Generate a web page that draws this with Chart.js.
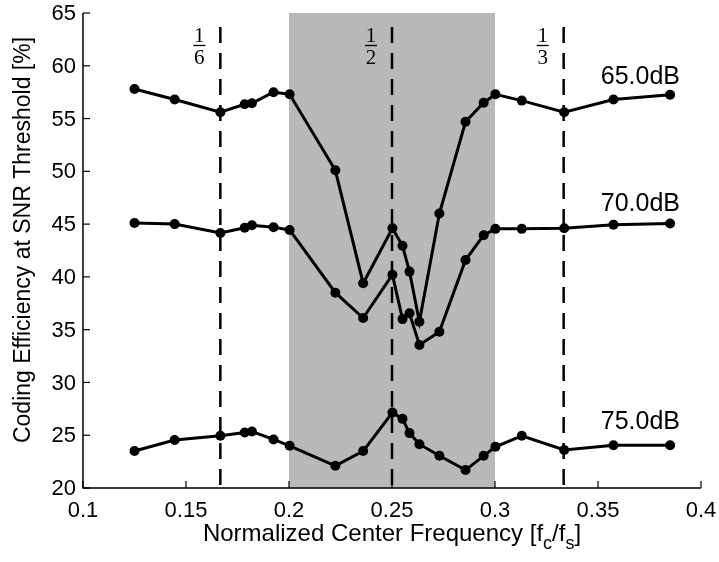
<!DOCTYPE html>
<html>
<head>
<meta charset="utf-8">
<script src="https://cdn.jsdelivr.net/npm/chart.js@4"></script>
<style>
  html, body { margin: 0; padding: 0; background: #fff; }
  #wrap { width: 719px; height: 562px; }
</style>
</head>
<body>
<div id="wrap"><canvas id="chart" width="719" height="562"></canvas></div>
<script>
// Values.
const freqs = [0.125, 0.1445, 0.1667, 0.1785, 0.182, 0.1925, 0.2003, 0.2225, 0.236, 0.2502, 0.2551,
               0.2585, 0.2633, 0.273, 0.2857, 0.2945, 0.3002, 0.313, 0.3336, 0.3575, 0.385];
const eff65 = [57.8, 56.8, 55.6, 56.35, 56.45, 57.5, 57.3, 50.1, 39.4, 44.6, 42.95,
               40.5, 35.75, 46.0, 54.7, 56.5, 57.3, 56.7, 55.6, 56.8, 57.25];
const eff70 = [45.1, 45.0, 44.15, 44.65, 44.9, 44.7, 44.45, 38.5, 36.1, 40.2, 36.0,
               36.55, 33.55, 34.8, 41.6, 43.95, 44.55, 44.55, 44.6, 44.95, 45.05];
const eff75 = [23.5, 24.55, 24.95, 25.25, 25.35, 24.6, 24.0, 22.1, 23.5, 27.15, 26.55,
               25.2, 24.15, 23.05, 21.7, 23.05, 23.9, 24.95, 23.6, 24.05, 24.05];

const seriesNames = ["65.0dB", "70.0dB", "75.0dB"];
const nameAnchors = [58.9, 46.9, 26.2];   // y value where each series name sits
const xTicks = [0.1, 0.15, 0.2, 0.25, 0.3, 0.35, 0.4];
const yTicks = [20, 25, 30, 35, 40, 45, 50, 55, 60, 65];

const dashFreqs = [0.16667, 0.25, 0.33333];
const dashLabels = [["1", "6"], ["1", "2"], ["1", "3"]];
const bandRange = [0.2, 0.3];

const xTitle = ["Normalized Center Frequency [f", "c", "/f", "s", "]"];
const yTitle = "Coding Efficiency at SNR Threshold [%]";

const SANS = "'Liberation Sans', Arial, Helvetica, sans-serif";
const SERIF = "'Liberation Serif', 'DejaVu Serif', serif";

const toPoints = (vals) => freqs.map((f, i) => ({ x: f, y: vals[i] }));

// Shaded band, dashed markers, axes with inward ticks, labels and titles.
const decorations = {
    id: "decorations",
    beforeDatasetsDraw(chart) {
        const { ctx, chartArea: a, scales: { x, y } } = chart;
        ctx.save();
        const x0 = x.getPixelForValue(bandRange[0]);
        const x1 = x.getPixelForValue(bandRange[1]);
        ctx.fillStyle = "#b9b9b9";
        ctx.fillRect(x0, a.top, x1 - x0, a.bottom - a.top);

        ctx.strokeStyle = "#000";
        ctx.lineWidth = 2.5;
        ctx.setLineDash([16, 10]);
        dashFreqs.forEach((f) => {
            const px = x.getPixelForValue(f);
            ctx.beginPath();
            ctx.moveTo(px, a.top + 14);
            ctx.lineTo(px, a.bottom);
            ctx.stroke();
        });
        ctx.setLineDash([]);

        // axes and inward tick marks
        ctx.lineWidth = 1.5;
        ctx.beginPath();
        ctx.moveTo(a.left, a.top);
        ctx.lineTo(a.left, a.bottom);
        ctx.lineTo(a.right, a.bottom);
        ctx.stroke();
        ctx.lineWidth = 1.2;
        xTicks.forEach((v) => {
            const px = x.getPixelForValue(v);
            ctx.beginPath();
            ctx.moveTo(px, a.bottom);
            ctx.lineTo(px, a.bottom - 7);
            ctx.stroke();
        });
        yTicks.forEach((v) => {
            const py = y.getPixelForValue(v);
            ctx.beginPath();
            ctx.moveTo(a.left, py);
            ctx.lineTo(a.left + 7, py);
            ctx.stroke();
        });

        // tick labels
        ctx.fillStyle = "#000";
        ctx.font = "22px " + SANS;
        ctx.textAlign = "center";
        ctx.textBaseline = "middle";
        xTicks.forEach((v) => {
            ctx.fillText(String(v), x.getPixelForValue(v), a.bottom + 23);
        });
        ctx.textAlign = "right";
        yTicks.forEach((v) => {
            ctx.fillText(String(v), a.left - 7, y.getPixelForValue(v) + 1);
        });
        ctx.restore();
    },
    afterDraw(chart) {
        const { ctx, chartArea: a, scales: { x, y } } = chart;
        ctx.save();
        ctx.fillStyle = "#000";
        ctx.strokeStyle = "#000";

        // fraction labels left of each dashed line
        ctx.font = "21px " + SERIF;
        ctx.textAlign = "center";
        ctx.textBaseline = "alphabetic";
        dashFreqs.forEach((f, i) => {
            const cx = x.getPixelForValue(f) - 21;
            ctx.fillText(dashLabels[i][0], cx, 42);
            ctx.lineWidth = 1.3;
            ctx.beginPath();
            ctx.moveTo(cx - 6, 45.5);
            ctx.lineTo(cx + 6, 45.5);
            ctx.stroke();
            ctx.fillText(dashLabels[i][1], cx, 64);
        });

        // series names
        ctx.font = "25px " + SANS;
        ctx.textAlign = "right";
        ctx.textBaseline = "middle";
        seriesNames.forEach((name, i) => {
            ctx.fillText(name, 680, y.getPixelForValue(nameAnchors[i]));
        });

        // x title with subscripts
        const big = "24px " + SANS, small = "18px " + SANS;
        let total = 0;
        xTitle.forEach((part, i) => {
            ctx.font = i % 2 ? small : big;
            total += ctx.measureText(part).width;
        });
        let cx = (a.left + a.right) / 2 - total / 2;
        ctx.textAlign = "left";
        ctx.textBaseline = "alphabetic";
        xTitle.forEach((part, i) => {
            ctx.font = i % 2 ? small : big;
            ctx.fillText(part, cx, i % 2 ? 549 : 541);
            cx += ctx.measureText(part).width;
        });

        // y title
        ctx.font = "23px " + SANS;
        ctx.textAlign = "center";
        ctx.textBaseline = "middle";
        ctx.translate(24, 240);
        ctx.rotate(-Math.PI / 2);
        ctx.fillText(yTitle, 0, 0);
        ctx.restore();
    },
};

const lineStyle = {
    borderColor: "#000",
    backgroundColor: "#000",
    borderWidth: 3,
    pointRadius: 5,
    pointBorderWidth: 0,
    showLine: true,
    tension: 0,
};

new Chart(document.getElementById("chart"), {
    type: "scatter",
    data: {
        datasets: [
            { label: seriesNames[0], data: toPoints(eff65), ...lineStyle },
            { label: seriesNames[1], data: toPoints(eff70), ...lineStyle },
            { label: seriesNames[2], data: toPoints(eff75), ...lineStyle },
        ],
    },
    options: {
        responsive: false,
        animation: false,
        devicePixelRatio: 1,
        layout: { autoPadding: false, padding: { top: 13, right: 18, left: 0, bottom: 0 } },
        plugins: { legend: { display: false }, tooltip: { enabled: false } },
        scales: {
            x: {
                type: "linear",
                min: 0.1,
                max: 0.4,
                afterBuildTicks: (s) => { s.ticks = xTicks.map((v) => ({ value: v })); },
                afterFit: (s) => { s.height = 74; },
                ticks: { display: false },
                grid: { display: false },
                border: { display: false },
            },
            y: {
                min: 20,
                max: 65,
                afterBuildTicks: (s) => { s.ticks = yTicks.map((v) => ({ value: v })); },
                afterFit: (s) => { s.width = 83; },
                ticks: { display: false },
                grid: { display: false },
                border: { display: false },
            },
        },
    },
    plugins: [decorations],
});
</script>
</body>
</html>
